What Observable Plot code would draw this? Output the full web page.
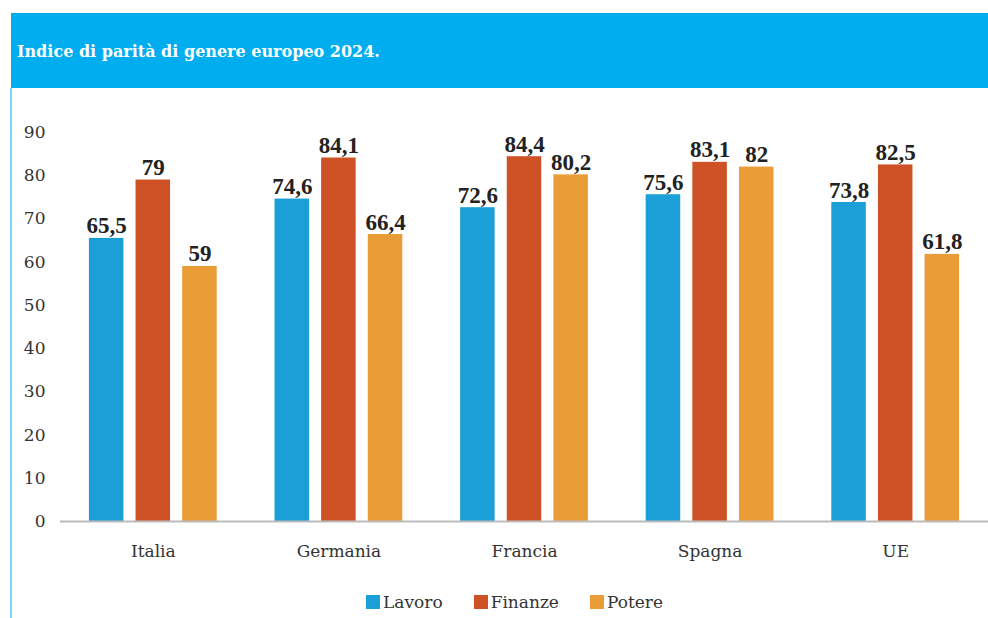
<!DOCTYPE html>
<html>
<head>
<meta charset="utf-8">
<script src="https://cdn.jsdelivr.net/npm/d3@7"></script>
<script src="https://cdn.jsdelivr.net/npm/@observablehq/plot@0.6"></script>
<style>
  body { margin: 0; background: #fff; width: 988px; height: 618px; position: relative; overflow: hidden; }
  #banner { position: absolute; left: 11px; top: 13px; width: 977px; height: 75px; background: #00AEEF; display: flex; align-items: center; }
  #banner span { color: #fff; font-family: "DejaVu Serif", serif; font-weight: bold; font-size: 16px; margin-left: 6px; margin-top: 2px; }
  #leftline { position: absolute; left: 10px; top: 88px; width: 2px; height: 530px; background: #7FD3F7; }
  #chart { position: absolute; left: 0; top: 88px; }
  #legend { position: absolute; top: 592px; left: 366px; display: flex; font-family: "DejaVu Serif", serif; font-size: 17px; color: #333; }
  #legend .item { display: flex; align-items: center; margin-right: 31px; }
  #legend .sw { width: 14px; height: 14px; margin-right: 3px; }
</style>
</head>
<body>
<div id="banner"><span>Indice di parità di genere europeo 2024.</span></div>
<div id="leftline"></div>
<div id="chart"></div>
<div id="legend"></div>
<script>
const countries = ["Italia", "Germania", "Francia", "Spagna", "UE"];
const series = ["Lavoro", "Finanze", "Potere"];
const colors = ["#1A9FD6", "#CF5227", "#EA9C37"];
const lavoro = [65.5, 74.6, 72.6, 75.6, 73.8];
const finanze = [79, 84.1, 84.4, 83.1, 82.5];
const potere = [59, 66.4, 80.2, 82, 61.8];
const yTicks = [0, 10, 20, 30, 40, 50, 60, 70, 80, 90];

const valuesBySeries = [lavoro, finanze, potere];
const data = [];
countries.forEach((c, i) => {
  series.forEach((s, j) => {
    data.push({country: c, serie: s, value: valuesBySeries[j][i]});
  });
});
const fmt = v => String(v).replace(".", ",");

const chart = Plot.plot({
  width: 988,
  height: 490,
  marginLeft: 60,
  marginRight: 0,
  marginTop: 44,
  marginBottom: 57,
  style: {fontFamily: "DejaVu Serif, serif", fontSize: "17px", color: "#333", background: "transparent"},
  fx: {domain: countries, padding: 0, round: false, label: null, tickSize: 0, tickPadding: 23, axis: "bottom"},
  x: {domain: series, paddingInner: 0.26, paddingOuter: 0.62, round: false, axis: null},
  y: {domain: [0, 90], ticks: yTicks, tickSize: 0, tickPadding: 15, label: null, tickFormat: d => d},
  color: {domain: series, range: colors},
  marks: [
    Plot.barY(data, {fx: "country", x: "serie", y: "value", fill: "serie"}),
    Plot.ruleY([0], {stroke: "#bbbbbb", strokeWidth: 2}),
    Plot.text(data, {fx: "country", x: "serie", y: "value", text: d => fmt(d.value), lineAnchor: "bottom", dy: -5,
      fontFamily: "Liberation Serif, serif", fontWeight: "bold", fontSize: 23, fill: "#222"})
  ]
});
document.getElementById("chart").appendChild(chart);

const legend = document.getElementById("legend");
series.forEach((s, i) => {
  const item = document.createElement("div");
  item.className = "item";
  const sw = document.createElement("div");
  sw.className = "sw";
  sw.style.background = colors[i];
  const t = document.createElement("span");
  t.textContent = s;
  item.appendChild(sw);
  item.appendChild(t);
  legend.appendChild(item);
});
</script>
</body>
</html>
